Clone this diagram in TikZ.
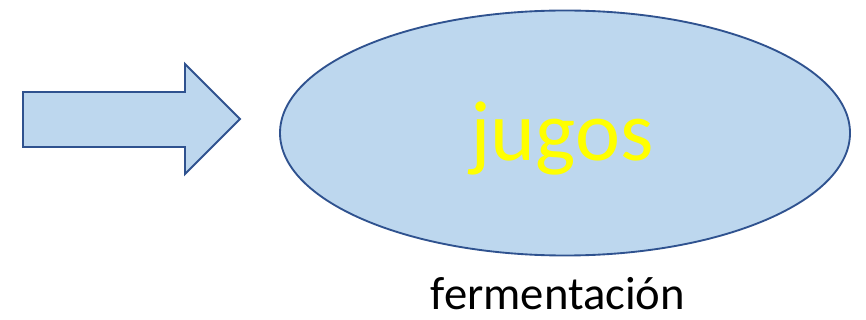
\documentclass[tikz,border=0pt]{standalone}
\usepackage{fontspec}
\setmainfont{Carlito}
\usetikzlibrary{shapes.geometric}
\definecolor{fillblue}{HTML}{BDD7EE}
\definecolor{edgeblue}{HTML}{2F528F}
\definecolor{txtyellow}{HTML}{FFFF00}
\begin{document}
\begin{tikzpicture}[x=0.75pt,y=-0.75pt,
  shapestyle/.style={fill=fillblue,draw=edgeblue,line width=1.4pt,line join=miter}]
\useasboundingbox (0,0) rectangle (866,320);
% block arrow
\draw[shapestyle] (23,92) -- (185,92) -- (185,64) -- (240,119) -- (185,174) -- (185,147) -- (23,147) -- cycle;
% ellipse
\node[shapestyle,ellipse,minimum width=570*0.75pt,minimum height=245*0.75pt,inner sep=0pt] (ell) at (565,133) {};
\node[text=txtyellow,font=\fontsize{64}{64}\selectfont,inner sep=0pt,anchor=base] (jugos) at (562,161) {jugos};
\node[text=black,font=\fontsize{35}{35}\selectfont,inner sep=0pt,anchor=base] (ferm) at (558,309) {fermentación};
\end{tikzpicture}
\end{document}
